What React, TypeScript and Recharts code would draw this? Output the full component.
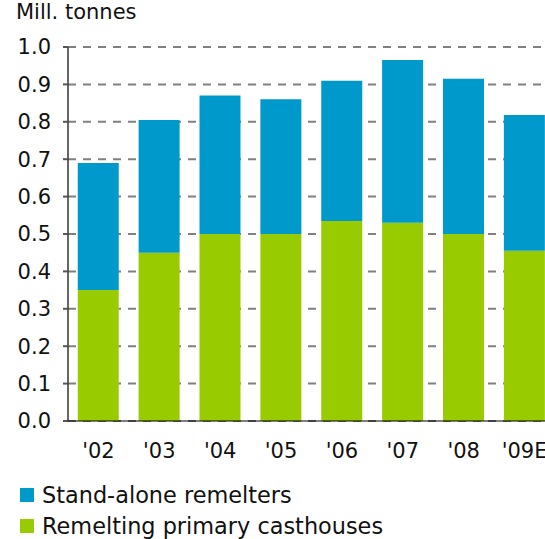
import React from "react";
import { BarChart, Bar, XAxis, YAxis, CartesianGrid } from "recharts";

const categories = ["'02", "'03", "'04", "'05", "'06", "'07", "'08", "'09E"];
const casthouses = [0.35, 0.45, 0.5, 0.5, 0.535, 0.53, 0.5, 0.455];
const remelters = [0.34, 0.355, 0.37, 0.36, 0.375, 0.435, 0.415, 0.363];
const yTicks = [0, 0.1, 0.2, 0.3, 0.4, 0.5, 0.6, 0.7, 0.8, 0.9, 1.0];
const seriesNames = ["Stand-alone remelters", "Remelting primary casthouses"];
const seriesColors = ["#0099cc", "#99cc00"];
const unitLabel = "Mill. tonnes";

const data = categories.map((c, i) => ({
  name: c,
  casthouses: casthouses[i],
  remelters: remelters[i],
}));

const FONT = "'DejaVu Sans', Verdana, sans-serif";
const FS = 21;

export default function App() {
  return (
    <div
      style={{
        position: "absolute",
        left: 0,
        top: 0,
        width: 545,
        height: 539,
        overflow: "hidden",
        background: "#fff",
        fontFamily: FONT,
      }}
    >
      <div
        style={{
          position: "absolute",
          left: 16,
          top: 0,
          fontSize: FS,
          lineHeight: "24px",
          color: "#111",
          whiteSpace: "nowrap",
        }}
      >
        {unitLabel}
      </div>
      <BarChart
        width={560}
        height={539}
        data={data}
        margin={{ top: 47, right: 5, bottom: 78, left: 0 }}
        barCategoryGap="16%"
      >
        <CartesianGrid
          vertical={false}
          horizontal={true}
          stroke="#808080"
          strokeWidth={2}
          strokeDasharray="8 7"
        />
        <Bar
          dataKey="casthouses"
          stackId="a"
          fill={seriesColors[1]}
          isAnimationActive={false}
        />
        <Bar
          dataKey="remelters"
          stackId="a"
          fill={seriesColors[0]}
          isAnimationActive={false}
        />
        <YAxis
          width={68}
          domain={[0, 1]}
          ticks={yTicks}
          interval={0}
          tickFormatter={(v: number) => v.toFixed(1)}
          tickSize={5}
          tickMargin={12}
          axisLine={{ stroke: "#333", strokeWidth: 1.5 }}
          tickLine={{ stroke: "#555", strokeWidth: 2 }}
          tick={{ fill: "#111", fontSize: FS, fontFamily: FONT }}
        />
        <XAxis
          dataKey="name"
          height={40}
          interval={0}
          tickLine={false}
          tickSize={6}
          tickMargin={16}
          axisLine={{ stroke: "#000", strokeOpacity: 0.5, strokeWidth: 2 }}
          tick={{ fill: "#111", fontSize: FS, fontFamily: FONT }}
        />
      </BarChart>
      {seriesNames.map((n, i) => (
        <div
          key={n}
          style={{
            position: "absolute",
            left: 20,
            top: 481 + i * 31,
            height: 28,
            display: "flex",
            alignItems: "center",
            fontSize: 22.4,
            color: "#111",
            whiteSpace: "nowrap",
          }}
        >
          <span
            style={{
              display: "inline-block",
              width: 14,
              height: 14,
              background: seriesColors[i],
              marginRight: 8,
            }}
          />
          {n}
        </div>
      ))}
    </div>
  );
}
